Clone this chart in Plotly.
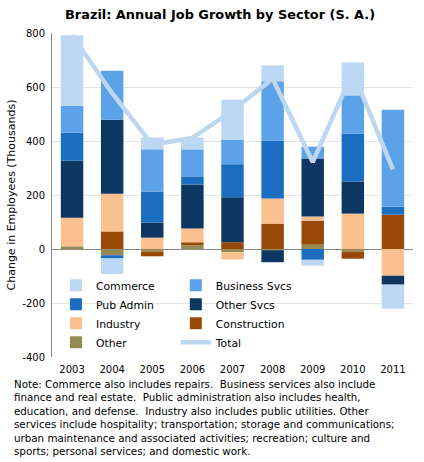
import plotly.graph_objects as go

years = ["2003", "2004", "2005", "2006", "2007", "2008", "2009", "2010", "2011"]

commerce     = [261, -58, 44, 44, 148, 59, -22, 122, -89]
business     = [100, 181, 156, 100, 91, 219, 44, 141, 359]
pub_admin    = [104, -12, 115, 30, 122, 215, -40, 178, 30]
other_svcs   = [211, 274, 56, 163, 167, -44, 215, 119, -33]
industry     = [106, 140, 42, 51, -27, 93, 15, 131, -99]
construction = [0, 65, -17, 11, 25, 94, 89, -26, 127]
other        = [10, -23, -10, 14, -12, -5, 16, -10, 0]
total        = [792, 577, 386, 412, 512, 631, 322, 655, 295]

y_tickvals = [-400, -200, 0, 200, 400, 600, 800]
y_ticktext = ["-400", "-200", "0", "200", "400", "600", "800"]

note_lines = [
    "Note: Commerce also includes repairs.  Business services also include",
    "finance and real estate.  Public administration also includes health,",
    "education, and defense.  Industry also includes public utilities. Other",
    "services include hospitality; transportation; storage and communications;",
    "urban maintenance and associated activities; recreation; culture and",
    "sports; personal services; and domestic work.",
]

FONT = "DejaVu Sans, sans-serif"

# (name, values, colour, legend column, rank within column)
series = [
    ("Other", other, "#948A54", "legend", 4),
    ("Construction", construction, "#984807", "legend2", 3),
    ("Industry", industry, "#FAC090", "legend", 3),
    ("Other Svcs", other_svcs, "#0E3662", "legend2", 2),
    ("Pub Admin", pub_admin, "#1B6EC2", "legend", 2),
    ("Business Svcs", business, "#5CA2E8", "legend2", 1),
    ("Commerce", commerce, "#BCD8F4", "legend", 1),
]

fig = go.Figure()
for name, vals, color, leg, rank in series:
    fig.add_trace(go.Bar(x=years, y=vals, name=name, marker_color=color,
                         marker_line_width=0, legend=leg, legendrank=rank))

fig.add_trace(go.Scatter(x=years, y=total, name="Total", mode="lines",
                         line=dict(color="#BDD7EE", width=4.5),
                         legend="legend2", legendrank=4))

legend_common = dict(orientation="v", yanchor="top", xanchor="left",
                     bgcolor="rgba(0,0,0,0)", font=dict(size=10.8),
                     traceorder="normal", tracegroupgap=0)

fig.update_layout(
    width=424, height=462,
    margin=dict(l=52, r=11, t=33, b=105),
    paper_bgcolor="white", plot_bgcolor="white",
    barmode="relative", bargap=0.44,
    font=dict(family=FONT, size=11, color="#000000"),
    title=dict(text="<b>Brazil: Annual Job Growth by Sector (S. A.)</b>",
               x=0.519, xanchor="center", y=0.968, yanchor="middle",
               font=dict(family=FONT, size=12.9, color="#000000")),
    xaxis=dict(type="category", showline=False, showgrid=False, ticks="",
               tickfont=dict(size=10), automargin=False, ticklabelstandoff=5),
    yaxis=dict(range=[-400, 800], tickvals=y_tickvals, ticktext=y_ticktext,
               showgrid=True, gridcolor="#E4E4E4",
               showline=True, linecolor="#868686", linewidth=1,
               zeroline=True, zerolinecolor="#868686", zerolinewidth=1,
               ticks="", ticklabelstandoff=4, tickfont=dict(size=10),
               automargin=False,
               title=dict(text="Change in Employees (Thousands)", font=dict(size=11),
                          standoff=4)),
    legend=dict(x=0.011, y=0.266, **legend_common),
    legend2=dict(x=0.343, y=0.266, **legend_common),
    showlegend=True,
)

fig.add_annotation(text="<br>".join(note_lines), xref="paper", yref="paper",
                   x=-0.111, y=-0.058, xanchor="left", yanchor="top",
                   align="left", showarrow=False, font=dict(size=10.3))

fig.write_html("out.html", config={"displayModeBar": False},
               post_script="document.body.style.margin='0';document.body.style.overflow='hidden';")
